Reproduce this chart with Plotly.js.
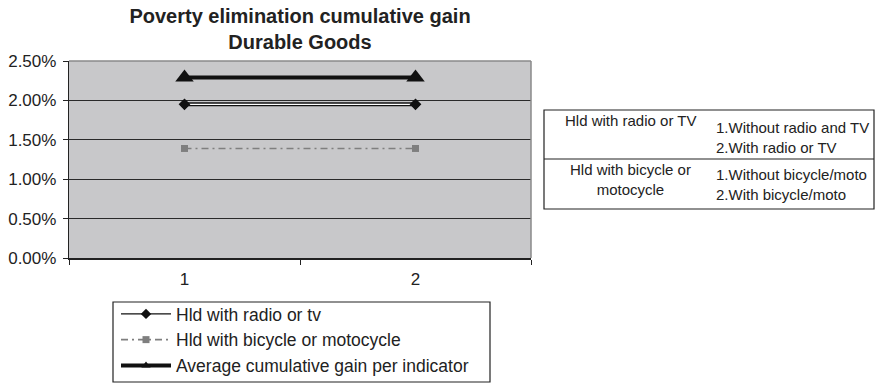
<!DOCTYPE html>
<html>
<head>
<meta charset="utf-8">
<script src="https://cdn.plot.ly/plotly-3.0.1.min.js"></script>
<style>
  html, body { margin: 0; padding: 0; background: #ffffff; }
  #chart { width: 887px; height: 386px; }
</style>
</head>
<body>
<div id="chart"></div>
<script>
// Categories on the x axis
const categories = ['1', '2'];

// Cumulative gain per category (fractions, shown as percent)
const radioTvGain = [0.0195, 0.0195];
const bicycleMotoGain = [0.0139, 0.0139];
const averageGain = [0.0229, 0.0229];

// Series names
const radioTvName = 'Hld with radio or tv';
const bicycleMotoName = 'Hld with bicycle or motocycle';
const averageName = 'Average cumulative gain per indicator';

// Y axis ticks
const yTickValues = [0, 0.005, 0.01, 0.015, 0.02, 0.025];

// Side table: indicator and its category codes
const tableIndicators = ['Hld with radio or TV', 'Hld with bicycle or<br>motocycle'];
const tableCodes = [
  ['1.Without radio and TV', '2.With radio or TV'],
  ['1.Without bicycle/moto', '2.With bicycle/moto']
];

const FONT = 'Liberation Sans, Arial, Helvetica, sans-serif';
const W = 887, H = 386;
const M = { l: 69, r: 356, t: 61, b: 128 };
const plotW = W - M.l - M.r, plotH = H - M.t - M.b;
// pixel -> paper coordinates
const px = v => (v - M.l) / plotW;
const py = v => (H - M.b - v) / plotH;

const traces = [
  // radio / tv: dark outline of a hollow line
  { x: categories, y: radioTvGain, type: 'scatter', mode: 'lines', showlegend: false,
    hoverinfo: 'skip', line: { color: '#111111', width: 4 } },
  { x: categories, y: radioTvGain, type: 'scatter', mode: 'lines+markers', name: radioTvName,
    line: { color: '#111111', width: 1.3 },
    marker: { symbol: 'diamond', size: 8, color: '#111111' } },
  { x: categories, y: radioTvGain, type: 'scatter', mode: 'lines', showlegend: false,
    hoverinfo: 'skip', line: { color: '#ffffff', width: 1.4 } },
  { x: categories, y: radioTvGain, type: 'scatter', mode: 'markers', showlegend: false,
    marker: { symbol: 'diamond', size: 9, color: '#111111' } },

  // bicycle / moto
  { x: categories, y: bicycleMotoGain, type: 'scatter', mode: 'lines+markers', name: bicycleMotoName,
    line: { color: '#7f7f7f', width: 1.6, dash: '7px,4px,2px,4px' },
    marker: { symbol: 'square', size: 7, color: '#7f7f7f' } },

  // average gain
  { x: categories, y: averageGain, type: 'scatter', mode: 'lines+markers', name: averageName,
    line: { color: '#111111', width: 4 },
    marker: { symbol: 'triangle-up', size: 8, color: '#111111' } },
  { x: categories, y: averageGain, type: 'scatter', mode: 'markers', showlegend: false,
    marker: { symbol: 'triangle-up', size: 16, color: '#111111' } }
];

// Table box, divider and legend frame
const tLeft = 544, tRight = 874, tTop = 110, tBottom = 209, tMid = 159;
const lgLeft = 113, lgRight = 490, lgTop = 302, lgBottom = 382;
const shapes = [
  { type: 'line', xref: 'paper', yref: 'paper', x0: 0, x1: 1, y0: 1, y1: 1,
    line: { color: '#8a8a8a', width: 1.5 }, layer: 'above' },
  { type: 'line', xref: 'paper', yref: 'paper', x0: 1, x1: 1, y0: 0, y1: 1,
    line: { color: '#8a8a8a', width: 1.5 }, layer: 'above' },
  { type: 'rect', xref: 'paper', yref: 'paper', x0: px(tLeft), x1: px(tRight), y0: py(tBottom), y1: py(tTop),
    line: { color: '#222222', width: 1.2 }, fillcolor: 'rgba(0,0,0,0)' },
  { type: 'line', xref: 'paper', yref: 'paper', x0: px(tLeft), x1: px(tRight), y0: py(tMid), y1: py(tMid),
    line: { color: '#222222', width: 1.2 } },
  { type: 'rect', xref: 'paper', yref: 'paper', x0: px(lgLeft), x1: px(lgRight), y0: py(lgBottom), y1: py(lgTop),
    line: { color: '#222222', width: 1.2 }, fillcolor: 'rgba(0,0,0,0)' }
];

const tableFont = { family: FONT, size: 15, color: '#222222' };
const annotations = [];
const indicatorY = [120, 179];
const codeY = [[127, 147], [174, 194]];
tableIndicators.forEach((label, i) => {
  annotations.push({ xref: 'paper', yref: 'paper', x: px(630), y: py(indicatorY[i]),
    text: label, showarrow: false, xanchor: 'center', yanchor: 'middle', align: 'center', font: tableFont });
  tableCodes[i].forEach((code, j) => {
    annotations.push({ xref: 'paper', yref: 'paper', x: px(714), y: py(codeY[i][j]),
      text: code, showarrow: false, xanchor: 'left', yanchor: 'middle', align: 'left', font: tableFont });
  });
});

const layout = {
  width: W, height: H,
  margin: { l: M.l, r: M.r, t: M.t, b: M.b, autoexpand: false },
  paper_bgcolor: '#ffffff',
  plot_bgcolor: '#c8c8ca',
  font: { family: FONT, color: '#222222' },
  title: {
    text: 'Poverty elimination cumulative gain<br>Durable Goods',
    font: { family: FONT, size: 20, weight: 'bold', color: '#222222' },
    x: 0.5, xref: 'paper', xanchor: 'center',
    y: 1 - 23 / H, yref: 'container', yanchor: 'top'
  },
  xaxis: {
    type: 'category', categoryorder: 'array', categoryarray: categories,
    range: [-0.5, 1.5], fixedrange: true,
    showgrid: false, zeroline: false,
    showline: true, linecolor: '#222222', linewidth: 1.5,
    ticks: 'outside', tickson: 'boundaries', ticklen: 5, tickcolor: '#222222',
    ticklabelstandoff: 5,
    tickfont: { family: FONT, size: 17, color: '#222222' },
    automargin: false
  },
  yaxis: {
    range: [0, 0.025], fixedrange: true,
    tickvals: yTickValues, tickformat: '.2%',
    showgrid: true, gridcolor: '#2a2a2a', gridwidth: 1,
    zeroline: false,
    showline: true, linecolor: '#222222', linewidth: 1.2,
    ticks: 'outside', ticklen: 5, tickcolor: '#222222',
    ticklabelstandoff: 3,
    tickfont: { family: FONT, size: 17, color: '#222222' },
    automargin: false
  },
  legend: {
    x: px(116), y: py(296), xanchor: 'left', yanchor: 'top',
    bgcolor: 'rgba(255,255,255,0)', borderwidth: 0,
    font: { family: FONT, size: 17.5, color: '#222222' },
    itemwidth: 50, tracegroupgap: 0, orientation: 'v'
  },
  shapes: shapes,
  annotations: annotations,
  hovermode: false
};

Plotly.newPlot('chart', traces, layout, { displayModeBar: false, staticPlot: true });
</script>
</body>
</html>
